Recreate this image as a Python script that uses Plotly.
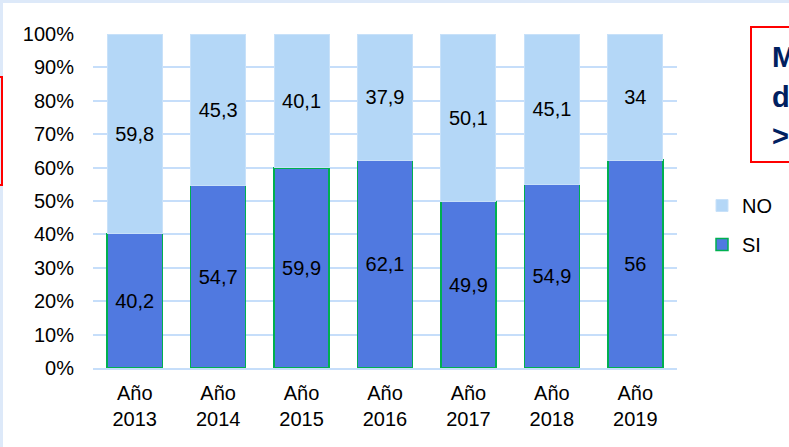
import plotly.graph_objects as go

categories = ["Año<br>2013", "Año<br>2014", "Año<br>2015", "Año<br>2016", "Año<br>2017", "Año<br>2018", "Año<br>2019"]
si_values = [40.2, 54.7, 59.9, 62.1, 49.9, 54.9, 56]
no_values = [59.8, 45.3, 40.1, 37.9, 50.1, 45.1, 34]
y_ticks = [0, 10, 20, 30, 40, 50, 60, 70, 80, 90, 100]


def fmt(v):
    return f"{v:g}".replace(".", ",")


W, H = 789, 447
L, R, T, B = 93, 677, 34, 368


def px(x):
    return (x - L) / (R - L)


def py(y):
    return (B - y) / (B - T)


fig = go.Figure()
fig.add_trace(go.Bar(
    name="SI", x=categories, y=si_values,
    text=[fmt(v) for v in si_values],
    marker=dict(color="#5079e0", line=dict(color="#00b050", width=1.5)),
    legendgroup="si", legendrank=2,
))
fig.add_trace(go.Bar(
    name="NO", x=categories, y=no_values,
    text=[fmt(v) for v in no_values],
    marker=dict(color="#b4d7f7", line=dict(color="#c8e1f9", width=1)),
    legendgroup="no", legendrank=1,
))
fig.update_traces(textposition="inside", insidetextanchor="middle", textangle=0,
                  textfont=dict(size=20, color="black", family="Liberation Sans, Arial"),
                  constraintext="none")

fig.update_layout(
    width=W, height=H,
    margin=dict(l=L, r=W - R, t=T, b=H - B, autoexpand=False),
    barmode="stack", barnorm="percent", bargap=0.34,
    paper_bgcolor="white", plot_bgcolor="white",
    font=dict(family="Liberation Sans, Arial", size=20, color="black"),
    showlegend=True,
    legend=dict(x=px(702), y=py(186), xanchor="left", yanchor="top",
                traceorder="grouped", tracegroupgap=10,
                font=dict(size=20), itemwidth=30, bgcolor="rgba(0,0,0,0)"),
    xaxis=dict(showgrid=False, showline=True, linecolor="#c6defa", linewidth=2,
               ticks="", tickfont=dict(size=20), ticklabelstandoff=6),
    yaxis=dict(range=[0, 100], tickvals=y_ticks, ticktext=[f"{t}%" for t in y_ticks],
               showgrid=True, gridcolor="#c6defa", gridwidth=2, zeroline=False,
               showline=False, ticks="", ticklabelstandoff=18, tickfont=dict(size=20)),
    shapes=[
        dict(type="rect", xref="paper", yref="paper", x0=px(0), x1=px(W), y0=py(0), y1=py(3),
             fillcolor="#dde9f9", line=dict(width=0), layer="below"),
        dict(type="rect", xref="paper", yref="paper", x0=px(0), x1=px(3), y0=py(0), y1=py(H),
             fillcolor="#dde9f9", line=dict(width=0), layer="below"),
        dict(type="rect", xref="paper", yref="paper", x0=px(-20), x1=px(2), y0=py(77), y1=py(185),
             fillcolor="rgba(0,0,0,0)", line=dict(color="#ff0000", width=2)),
        dict(type="rect", xref="paper", yref="paper", x0=px(751), x1=px(820), y0=py(27), y1=py(162),
             fillcolor="white", line=dict(color="#ff0000", width=2)),
    ],
    annotations=[
        dict(text="<b>M</b>", xref="paper", yref="paper", x=px(770), y=py(57), xanchor="left",
             yanchor="middle", showarrow=False, font=dict(size=29, color="#002060")),
        dict(text="<b>d</b>", xref="paper", yref="paper", x=px(770), y=py(97), xanchor="left",
             yanchor="middle", showarrow=False, font=dict(size=29, color="#002060")),
        dict(text="<b>></b>", xref="paper", yref="paper", x=px(770), y=py(136), xanchor="left",
             yanchor="middle", showarrow=False, font=dict(size=29, color="#002060")),
    ],
)

fig.write_html("out.html", config={"displayModeBar": False},
               post_script="document.body.style.margin='0';document.body.style.overflow='hidden';")
